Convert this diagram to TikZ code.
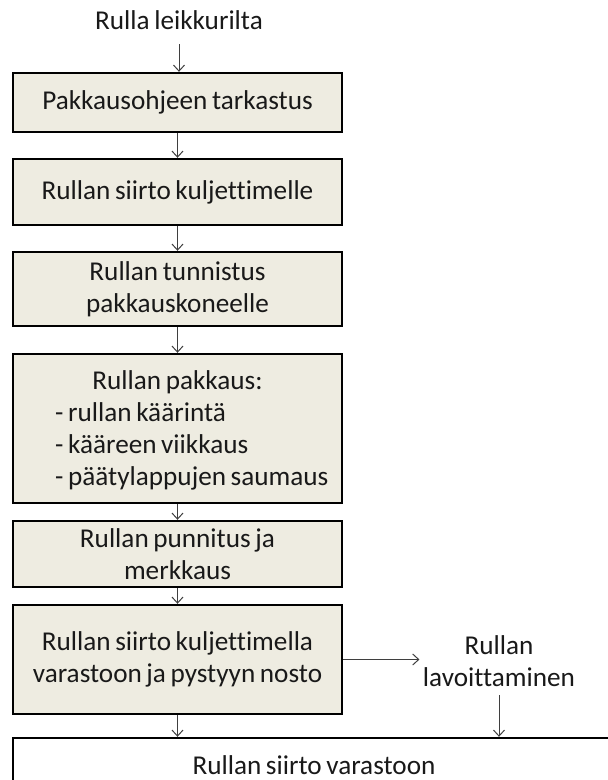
\documentclass[tikz,border=0pt]{standalone}
\usepackage{fontspec}
\setmainfont{Carlito}[Ligatures=NoCommon, WordSpace=0.75]
\usetikzlibrary{arrows.meta}
\definecolor{boxfill}{HTML}{EEECE1}
\definecolor{linkgray}{HTML}{3F3F3F}
\begin{document}
\begin{tikzpicture}[x=1pt,y=-1pt,
  every node/.style={font=\fontsize{27.2}{32}\selectfont, text=black!90, align=center},
  stepbox/.style={draw=black, line width=2.4pt, fill=boxfill, minimum width=329pt, inner sep=2pt},
  link/.style={draw=linkgray, line width=1pt, -{Straight Barb[length=6pt,width=11pt]}},
]
\useasboundingbox (0,0) rectangle (608,780);
\clip (0,0) rectangle (608,780);

% process steps
\node (start) at (179,20) {Rulla leikkurilta};
\node[stepbox, minimum height=59pt] (b1) at (177.5,102.5) {Pakkausohjeen tarkastus};
\node[stepbox, minimum height=66pt] (b2) at (177.5,192) {Rullan siirto kuljettimelle};
\node[stepbox, minimum height=74pt] (b3) at (177.5,289) {Rullan tunnistus\\pakkauskoneelle};
\node[stepbox, minimum height=149pt] (b4) at (177.5,428.5) {};
\node (b4head) at (177.5,382) {Rullan pakkaus:};
\node[anchor=west, align=left, inner sep=0pt] (b4list) at (55,446.5) {- rullan käärintä\\- kääreen viikkaus\\- päätylappujen saumaus};
\node[stepbox, minimum height=66pt] (b5) at (177.5,554) {Rullan punnitus ja\\merkkaus};
\node[stepbox, minimum height=109pt] (b6) at (177.5,659.5) {Rullan siirto kuljettimella\\varastoon ja pystyyn nosto};
\node (lav) at (499,661) {Rullan\\lavoittaminen};
\node[draw=black, line width=2.4pt, fill=white, minimum width=602pt, minimum height=54pt] (final) at (314,765) {Rullan siirto varastoon};

% connectors
\draw[link, shorten <=11pt] (start.south) -- (start.south |- b1.north);
\draw[link] (b1) -- (b2);
\draw[link] (b2) -- (b3);
\draw[link] (b3) -- (b4);
\draw[link] (b4) -- (b5);
\draw[link] (b5) -- (b6);
\draw[link] (b6.east) -- (b6.east -| lav.west);
\draw[link] (b6.south) -- (b6.south |- final.north);
\draw[link, shorten <=5pt] (lav.south) -- (lav.south |- final.north);
\end{tikzpicture}
\end{document}
